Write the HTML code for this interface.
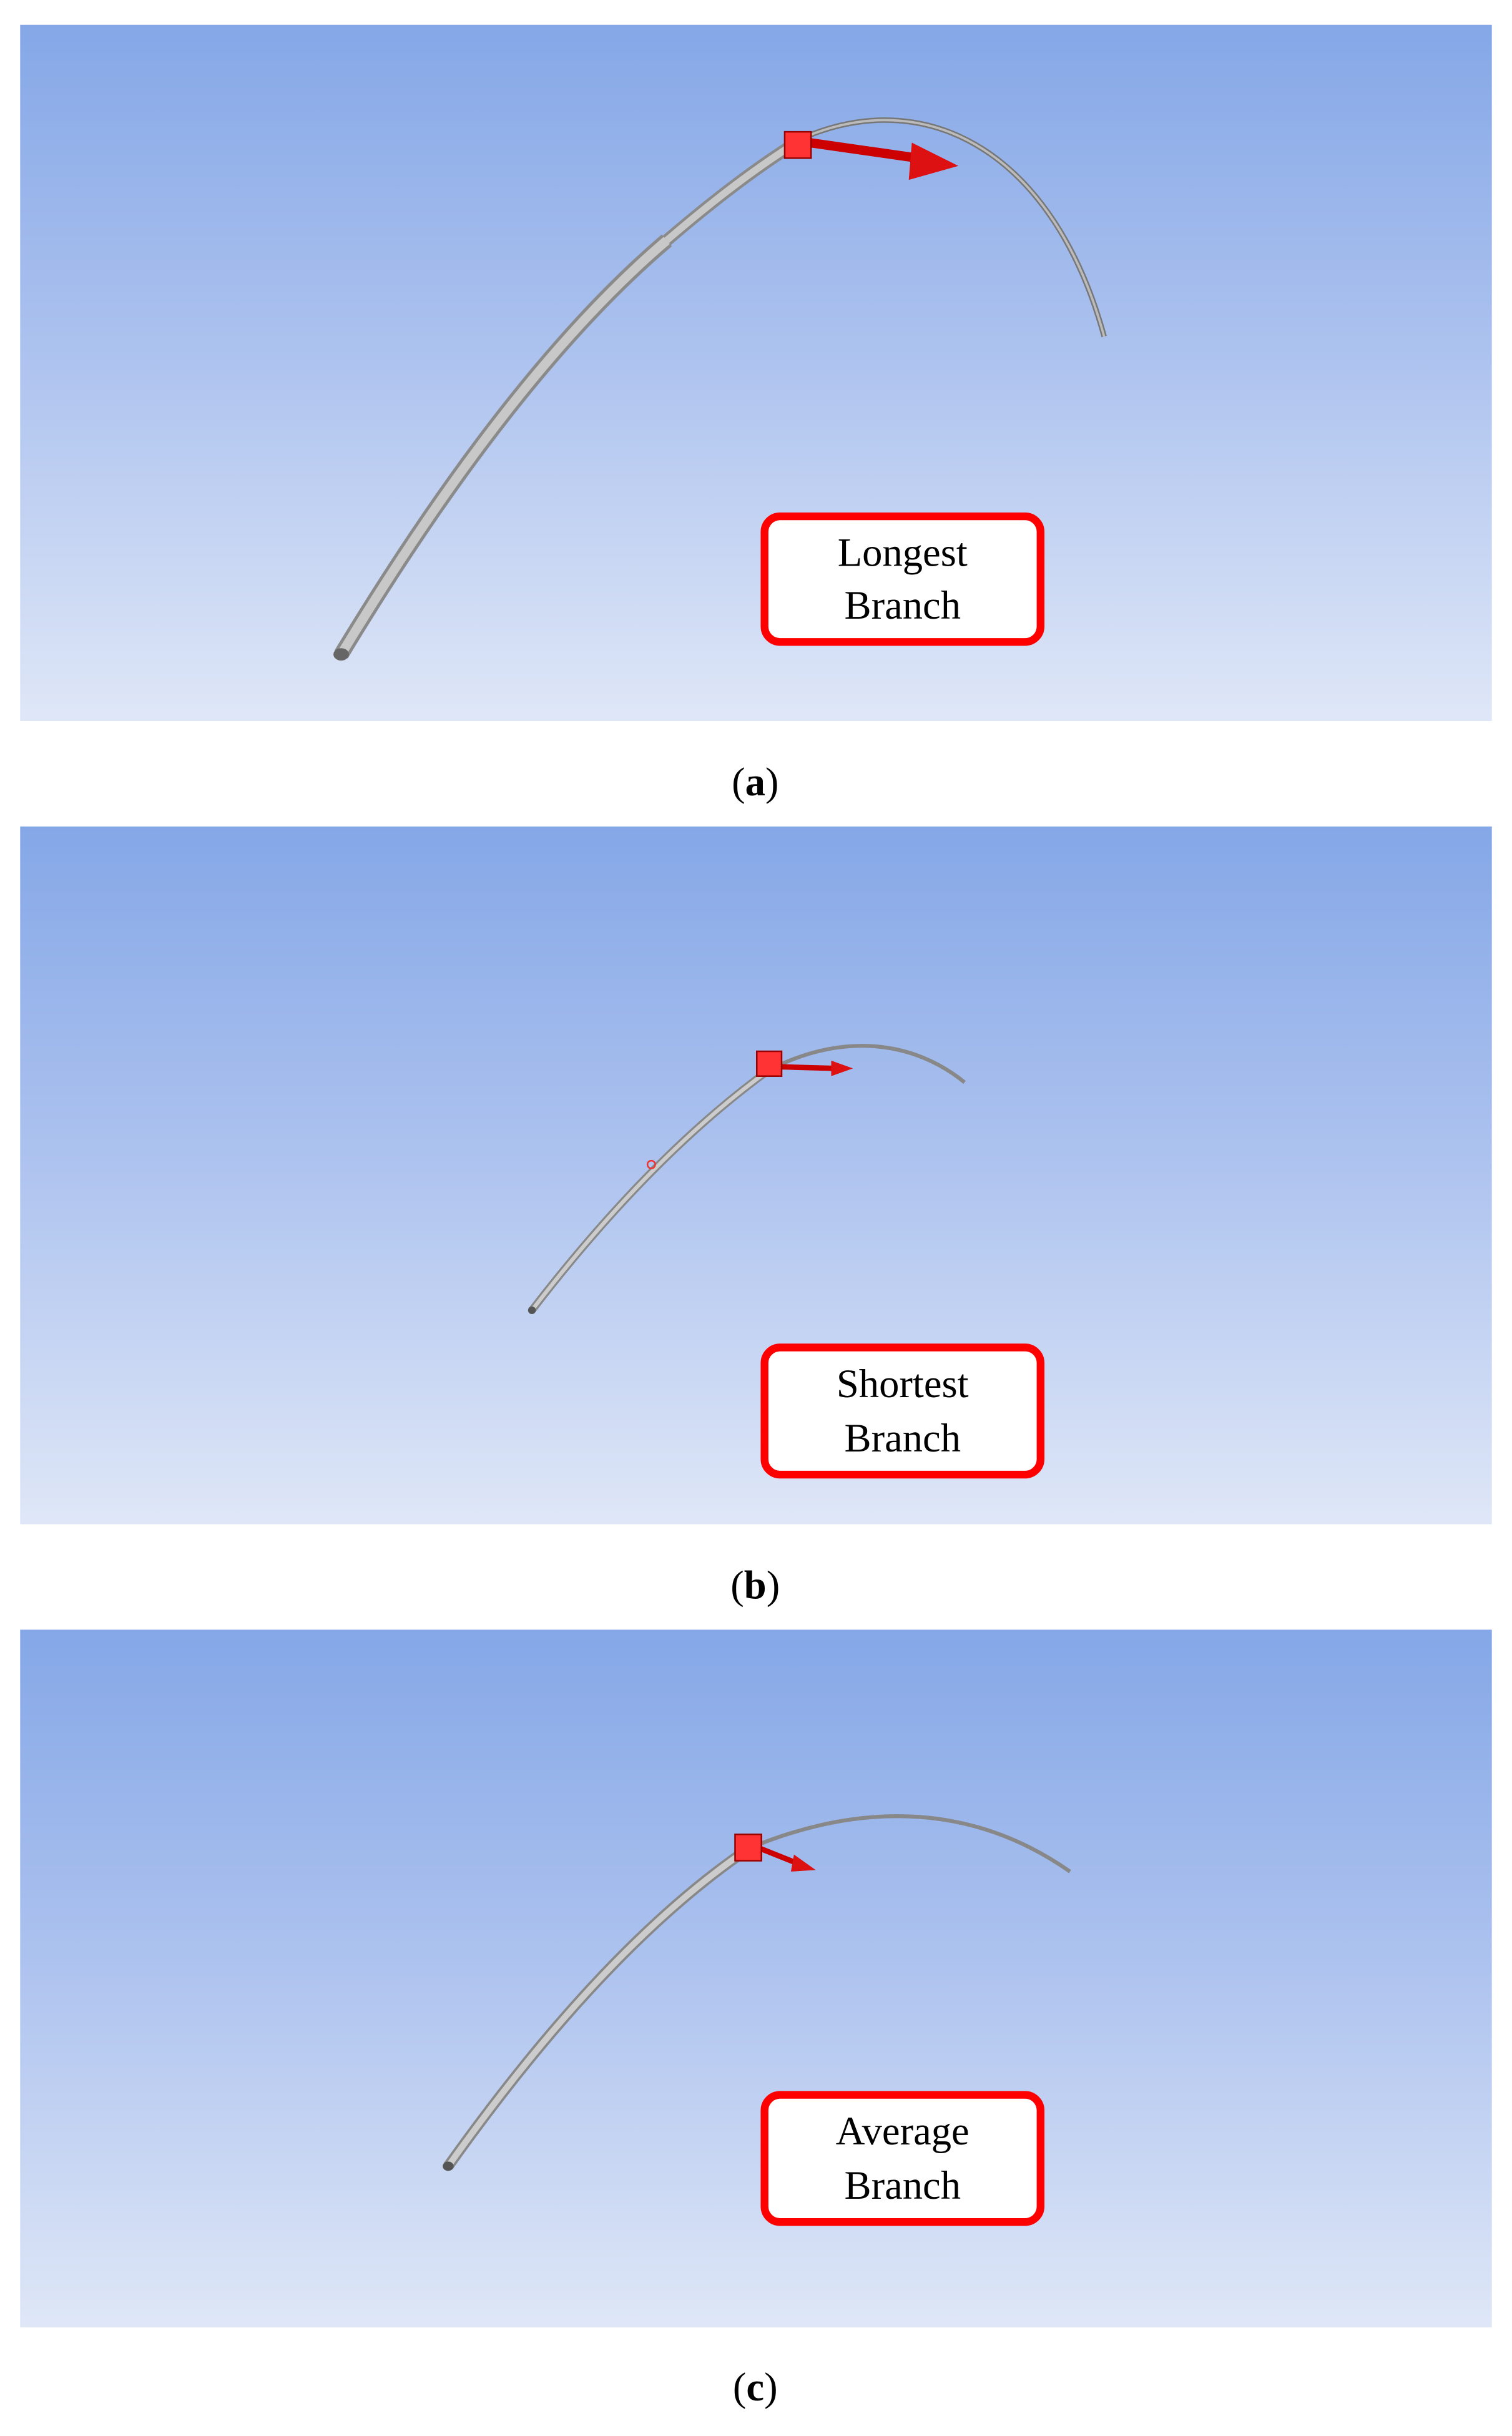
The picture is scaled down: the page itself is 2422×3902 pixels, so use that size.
<!DOCTYPE html>
<html><head><meta charset="utf-8"><style>
html,body{margin:0;padding:0;background:#fff;}
svg{display:block;}
text{font-family:"Liberation Serif",serif;}
</style></head><body>
<svg width="2422" height="3902" viewBox="0 0 975 1571" preserveAspectRatio="none" xmlns="http://www.w3.org/2000/svg">
<defs>
<linearGradient id="bg" x1="0" y1="0" x2="0" y2="1">
<stop offset="0" stop-color="#85a7e7"/>
<stop offset="0.5" stop-color="#afc4ef"/>
<stop offset="1" stop-color="#dfe7f7"/>
</linearGradient>
</defs>
<rect width="975" height="1571" fill="#fff"/>
<!-- Panel a -->
<rect x="13" y="16" width="949" height="449" fill="url(#bg)"/>
<path d="M220,422 Q330,240 430,155" stroke="#8a8a8a" stroke-width="10" fill="none"/>
<path d="M220,422 Q330,240 430,155" stroke="#c8c8c8" stroke-width="6" fill="none"/>
<path d="M430,155 Q480,112 520,88" stroke="#8a8a8a" stroke-width="8" fill="none"/>
<path d="M430,155 Q480,112 520,88" stroke="#c8c8c8" stroke-width="4.5" fill="none"/>
<path d="M520,88 C600,55 680,100 712,217" stroke="#777" stroke-width="3.5" fill="none"/>
<path d="M520,88 C600,55 680,100 712,217" stroke="#bbb" stroke-width="1.5" fill="none"/>
<ellipse cx="220" cy="422" rx="5" ry="4" fill="#666"/>
<path d="M522,92 L592,102" stroke="#c00" stroke-width="6"/>
<polygon points="588,92 618,107 586,116" fill="#d11"/>
<rect x="506" y="85" width="17" height="17" fill="#f33" stroke="#900" stroke-width="1"/>
<rect x="493" y="333" width="178" height="81" rx="10" fill="#fff" stroke="#f00" stroke-width="5"/>
<text x="582" y="365" font-size="26" text-anchor="middle">Longest</text>
<text x="582" y="399" font-size="26" text-anchor="middle">Branch</text>
<text x="487" y="513" font-size="26" text-anchor="middle">(<tspan font-weight="bold">a</tspan>)</text>
<!-- Panel b -->
<rect x="13" y="533" width="949" height="450" fill="url(#bg)"/>
<path d="M343,845 Q420,745 496,690" stroke="#888" stroke-width="5" fill="none"/>
<path d="M343,845 Q420,745 496,690" stroke="#ccc" stroke-width="2.5" fill="none"/>
<path d="M496,690 C545,665 590,672 622,698" stroke="#888" stroke-width="2.5" fill="none"/>
<circle cx="343" cy="845" r="2.5" fill="#555"/>
<circle cx="420" cy="751" r="2.5" fill="none" stroke="#e33" stroke-width="1"/>
<path d="M503,688 L538,689" stroke="#c00" stroke-width="3.5"/>
<polygon points="536,684 550,689 536,694" fill="#d11"/>
<rect x="488" y="678" width="16" height="16" fill="#f33" stroke="#900" stroke-width="1"/>
<rect x="493" y="869" width="178" height="82" rx="10" fill="#fff" stroke="#f00" stroke-width="5"/>
<text x="582" y="901" font-size="26" text-anchor="middle">Shortest</text>
<text x="582" y="936" font-size="26" text-anchor="middle">Branch</text>
<text x="487" y="1031" font-size="26" text-anchor="middle">(<tspan font-weight="bold">b</tspan>)</text>
<!-- Panel c -->
<rect x="13" y="1051" width="949" height="450" fill="url(#bg)"/>
<path d="M289,1397 Q390,1255 483,1192" stroke="#888" stroke-width="7" fill="none"/>
<path d="M289,1397 Q390,1255 483,1192" stroke="#ccc" stroke-width="4" fill="none"/>
<path d="M483,1192 C560,1160 630,1165 690,1207" stroke="#888" stroke-width="2.5" fill="none"/>
<ellipse cx="289" cy="1397" rx="3.5" ry="3" fill="#555"/>
<path d="M490,1192 L515,1202" stroke="#c00" stroke-width="3.5"/>
<polygon points="512,1196 526,1206 510,1207" fill="#d11"/>
<rect x="474" y="1183" width="17" height="17" fill="#f33" stroke="#900" stroke-width="1"/>
<rect x="493" y="1351" width="178" height="82" rx="10" fill="#fff" stroke="#f00" stroke-width="5"/>
<text x="582" y="1383" font-size="26" text-anchor="middle">Average</text>
<text x="582" y="1418" font-size="26" text-anchor="middle">Branch</text>
<text x="487" y="1548" font-size="26" text-anchor="middle">(<tspan font-weight="bold">c</tspan>)</text>
</svg>
</body></html>
